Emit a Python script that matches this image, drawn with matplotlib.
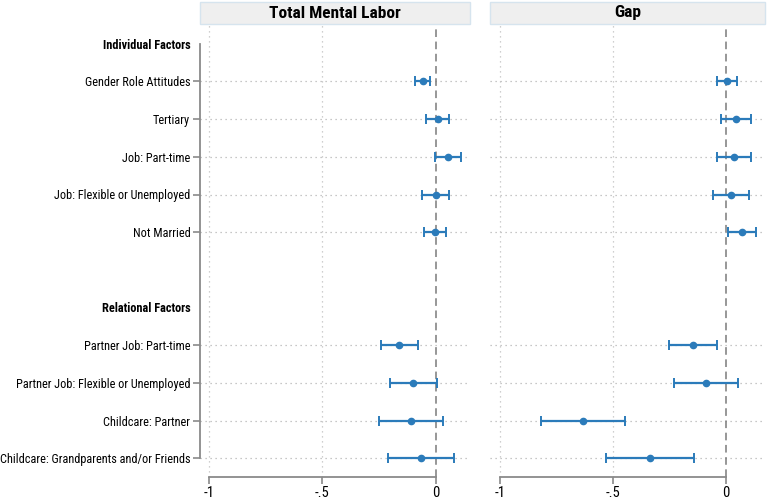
import matplotlib
matplotlib.use("Agg")
import matplotlib.pyplot as plt
from matplotlib.patches import Rectangle

narrow = ['Liberation Sans Narrow', 'Roboto Condensed', 'Archivo Narrow', 'Liberation Sans', 'DejaVu Sans']
plt.rcParams['font.family'] = narrow

# rows top to bottom; group headers and one blank spacer row
row_labels = ["Individual Factors", "Gender Role Attitudes", "Tertiary", "Job: Part-time",
              "Job: Flexible or Unemployed", "Not Married", "", "Relational Factors",
              "Partner Job: Part-time", "Partner Job: Flexible or Unemployed",
              "Childcare: Partner", "Childcare: Grandparents and/or Friends"]
header_rows = [0, 7]
coef_rows = [1, 2, 3, 4, 5, 8, 9, 10, 11]

# Total Mental Labor
tml_est = [-0.059, 0.007, 0.054, -0.002, -0.004, -0.163, -0.100, -0.109, -0.065]
tml_lo = [-0.093, -0.043, -0.003, -0.060, -0.052, -0.244, -0.204, -0.251, -0.211]
tml_hi = [-0.025, 0.057, 0.111, 0.059, 0.043, -0.081, 0.006, 0.031, 0.079]

# Gap
gap_est = [0.004, 0.044, 0.035, 0.024, 0.071, -0.146, -0.088, -0.633, -0.336]
gap_lo = [-0.040, -0.022, -0.040, -0.058, 0.007, -0.254, -0.231, -0.820, -0.529]
gap_hi = [0.050, 0.111, 0.111, 0.102, 0.131, -0.038, 0.052, -0.446, -0.142]

xticks = [-1, -0.5, 0]
xticklabels = ["-1", "-.5", "0"]

blue = "#2b7bba"
gray = "#8a8a8a"

W, H = 767, 499
fig = plt.figure(figsize=(W / 100, H / 100), dpi=100)


def px_axes(x0, x1, y0, y1):
    return fig.add_axes([x0 / W, 1 - y1 / H, (x1 - x0) / W, (y1 - y0) / H])


panels = [
    ("Total Mental Labor", (200, 470), (-1.0396, 0.1498), tml_est, tml_lo, tml_hi),
    ("Gap", (490, 765), (-1.044, 0.1726), gap_est, gap_lo, gap_hi),
]

for i, (title, (x0, x1), xlim, est, lo, hi) in enumerate(panels):
    ax = px_axes(x0, x1, 25, 477)
    ax.set_xlim(*xlim)
    ax.set_ylim(11.5, -0.5)

    # header strip
    fig.patches.append(Rectangle((x0 / W, 1 - 24 / H), (x1 - x0) / W, 22 / H,
                                 transform=fig.transFigure, facecolor="#efefef",
                                 edgecolor="#d6e4ee", lw=1.0))
    fig.text((x0 + x1) / 2 / W, 1 - 13 / H, title, ha="center", va="center",
             fontsize=12.5, fontweight="bold")

    # grid
    for r in coef_rows:
        ax.axhline(r, color="#b5b5b5", lw=0.9, ls=(0, (1, 3)), zorder=1)
    for xv in [-1, -0.5]:
        ax.axvline(xv, color="#c0c0c0", lw=0.9, ls=(0, (1, 3)), zorder=1)
    ax.axvline(0, color="#7a7a7a", lw=1.1, ls=(0, (5, 3)), zorder=2)

    xerr = [[e - l for e, l in zip(est, lo)], [h - e for e, h in zip(est, hi)]]
    ax.errorbar(est, coef_rows, xerr=xerr, fmt="o", color=blue, ms=4.5,
                elinewidth=1.6, capsize=3.5, capthick=1.4, zorder=3)

    for s in ["top", "right"]:
        ax.spines[s].set_visible(False)
    ax.spines["bottom"].set_bounds(-1, 0)
    ax.spines["bottom"].set_color(gray)
    ax.spines["bottom"].set_linewidth(1.3)
    ax.set_xticks(xticks)
    ax.set_xticklabels(xticklabels, fontsize=10.5)
    ax.tick_params(axis="x", colors=gray, length=5, width=1.2, labelcolor="black", pad=1.5)

    if i == 0:
        ax.spines["left"].set_bounds(0, 11)
        ax.spines["left"].set_color(gray)
        ax.spines["left"].set_linewidth(1.3)
        ax.set_yticks(range(len(row_labels)))
        ax.set_yticklabels(row_labels, fontsize=8.8)
        ax.tick_params(axis="y", colors=gray, length=5, width=1.2, labelcolor="black", pad=2)
        for r, t in enumerate(ax.yaxis.get_major_ticks()):
            if r in header_rows or r == 6:
                t.tick1line.set_visible(False)
        for r, lab in enumerate(ax.get_yticklabels()):
            if r in header_rows:
                lab.set_fontweight("bold")
    else:
        ax.spines["left"].set_visible(False)
        ax.set_yticks([])

fig.savefig("out.png", dpi=100)
